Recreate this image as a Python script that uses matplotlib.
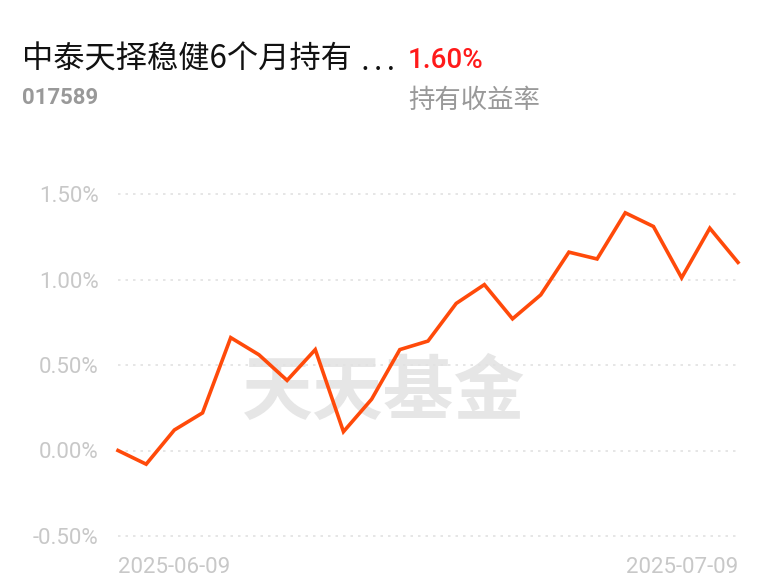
import matplotlib
matplotlib.use("Agg")
import matplotlib.pyplot as plt

plt.rcParams['font.family'] = ['Noto Sans CJK SC', 'DejaVu Sans']

# holding return (%) per trading day, 2025-06-09 .. 2025-07-09
dates = ["2025-06-09", "2025-06-10", "2025-06-11", "2025-06-12", "2025-06-13",
         "2025-06-16", "2025-06-17", "2025-06-18", "2025-06-19", "2025-06-20",
         "2025-06-23", "2025-06-24", "2025-06-25", "2025-06-26", "2025-06-27",
         "2025-06-30", "2025-07-01", "2025-07-02", "2025-07-03", "2025-07-04",
         "2025-07-07", "2025-07-08", "2025-07-09"]
returns = [0.00, -0.08, 0.12, 0.22, 0.66, 0.56, 0.41, 0.59, 0.11, 0.30,
           0.59, 0.64, 0.86, 0.97, 0.77, 0.91, 1.16, 1.12, 1.39, 1.31,
           1.01, 1.30, 1.10]
yticks = [-0.5, 0.0, 0.5, 1.0, 1.5]
ytick_labels = ["-0.50%", "0.00%", "0.50%", "1.00%", "1.50%"]

fund_name = "中泰天择稳健6个月持有"
fund_code = "017589"
total_ret = "1.60%"
ret_label = "持有收益率"

W, H = 768, 587
fig = plt.figure(figsize=(W / 100, H / 100), dpi=100)
ax = fig.add_axes([118 / W, 1 - 536 / H, 620 / W, 342 / H])

gray = "#c8c8c8"
x = list(range(len(dates)))

ax.text(0.429, 0.418, "天天基金", transform=ax.transAxes, ha="center", va="center",
        fontsize=51, fontweight="bold", color="#e6e6e6", zorder=0)

for t in yticks:
    ax.axhline(t, color="#e2e2e2", lw=1.2, ls=(0, (1.5, 3)), zorder=1, clip_on=False)
ax.plot(x, returns, color="#ff4a0a", lw=2.6, zorder=3, clip_on=False,
        solid_joinstyle="miter")

ax.set_xlim(0, len(dates) - 1)
ax.set_ylim(-0.5, 1.5)
ax.set_yticks(yticks)
ax.set_yticklabels(ytick_labels, family=["Roboto", "DejaVu Sans"])
ax.set_xticks([0, len(dates) - 1])
ax.set_xticklabels([dates[0], dates[-1]], family=["Roboto", "DejaVu Sans"])
lbls = ax.get_xticklabels()
lbls[0].set_ha("left")
lbls[1].set_ha("right")
ax.tick_params(axis="y", length=0, pad=14, labelsize=16, labelcolor=gray)
ax.tick_params(axis="x", length=0, pad=15, labelsize=16, labelcolor=gray)
for s in ax.spines.values():
    s.set_visible(False)
ax.set_facecolor("none")

fig.text(22 / W, 1 - 60 / H, fund_name, fontsize=22.5, color="#111111", va="center", ha="left")
fig.text(362 / W, 1 - 60 / H, ". . .", fontsize=17, color="#111111", va="baseline", ha="left",
         family=["Roboto", "DejaVu Sans"], fontweight="bold",
         transform=fig.transFigure).set_y(1 - 70 / H)
fig.text(408 / W, 1 - 60 / H, total_ret, fontsize=20, color="#ff1a1a", va="center", ha="left",
         family=["Roboto", "DejaVu Sans"], fontweight="medium")
fig.text(22 / W, 1 - 98 / H, fund_code, fontsize=16, color="#999999", va="center", ha="left",
         family=["Roboto", "DejaVu Sans"], fontweight="bold")
fig.text(408 / W, 1 - 100 / H, ret_label, fontsize=19, color="#999999", va="center", ha="left")

fig.savefig("out.png", dpi=100)
